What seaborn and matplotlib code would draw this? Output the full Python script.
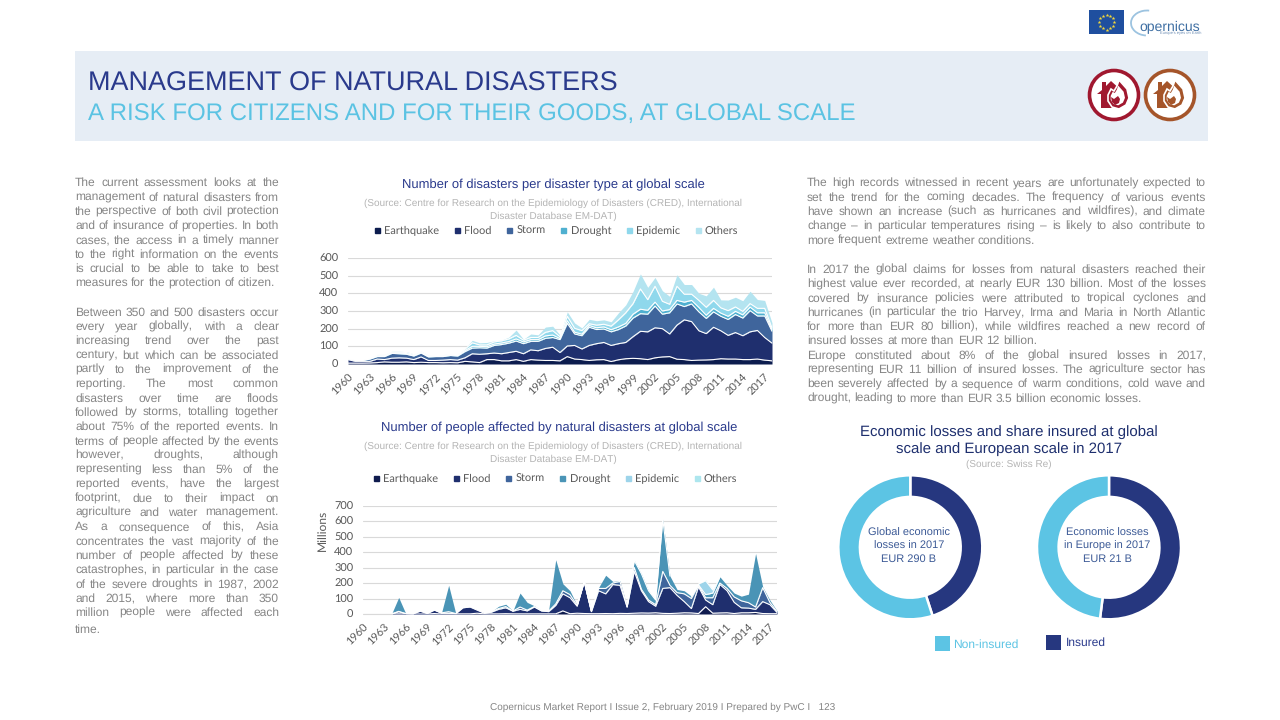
import numpy as np
import pandas as pd
import matplotlib
matplotlib.use("Agg")
import matplotlib.pyplot as plt
from matplotlib.patches import Rectangle, Circle, Polygon, Arc
from matplotlib.lines import Line2D
from matplotlib.transforms import ScaledTranslation
import seaborn as sns

# ---------- data ----------
years = list(range(1960, 2019))
series_names = ["Earthquake", "Flood", "Storm", "Drought", "Epidemic", "Others"]

# Number of disasters per type
d_earthquake = [5,5,5,6,8,12,10,10,12,8, 10,8,8,7,8,7,15,12,8,25, 25,18,18,25,15,25,22,20,20,18,
                42,28,25,20,24,25,14,24,30,32, 30,25,35,40,42,27,25,20,22,23, 25,30,28,28,25,25,28,22,18]
d_flood = [20,10,10,9,20,13,23,25,21,17, 30,12,12,15,17,15,20,46,47,33, 37,40,47,47,43,55,53,68,75,47,
           60,77,60,85,91,97,91,91,92,123, 155,157,170,160,128,193,225,220,166,149, 183,158,134,150,135,157,162,128,100]
d_storm = [5,5,5,13,14,17,27,23,22,20, 22,20,22,20,23,23,35,32,37,32, 43,52,53,58,57,48,53,57,55,73,
           128,65,75,103,80,76,77,80,93,105, 100,100,123,82,120,120,75,100,107,86, 87,82,90,102,100,120,82,122,67]
d_drought = [1,1,1,2,3,3,4,4,4,3, 3,3,3,3,3,3,6,10,8,8, 8,9,9,12,10,10,10,14,14,6,
             15,10,9,10,10,12,12,15,15,22, 25,22,22,18,18,20,25,20,25,18, 20,18,18,18,18,20,18,18,8]
d_epidemic = [1,0,1,3,5,4,5,5,6,6, 5,3,3,4,4,5,8,20,8,10, 12,12,15,20,10,12,12,20,25,10,
              25,22,20,10,15,15,20,40,60,60, 115,60,90,55,30,80,45,35,40,45, 45,30,32,25,20,20,25,25,10]
d_others = [0,1,1,2,4,5,4,5,5,3, 3,3,2,4,3,3,6,14,12,14, 6,4,10,30,5,20,15,30,25,10,
            25,30,15,25,25,25,25,40,45,70, 85,70,50,60,45,65,55,55,40,65, 75,45,60,55,60,70,50,45,30]

# People affected (millions)
p_earthquake = [0,0,0,0,0,1,0,0,0,0, 3,0,1,1,1,1,5,1,1,1, 2,1,1,1,1,1,1,1,20,2,
                5,3,2,2,3,2,4,3,5,7, 6,8,4,3,5,8,7,3,47,5, 7,8,3,8,8,10,3,2,2]
p_flood = [0,0,0,0,0,14,2,1,18,3, 22,5,4,1,39,44,20,4,11,29, 38,17,29,19,44,19,14,54,110,103,
           45,207,13,148,127,188,181,42,270,143, 74,42,161,167,115,72,28,172,43,55, 183,142,72,32,30,20,77,58,8]
p_storm = [0,0,0,0,0,2,0,0,1,0, 1,2,10,1,1,1,2,2,2,5, 8,1,15,5,3,1,3,10,20,20,
           5,0,2,15,35,10,25,1,25,10, 10,10,110,15,18,50,65,10,15,45, 10,15,35,45,35,15,90,15,5]
p_drought = [0,0,0,0,0,90,0,0,0,0, 0,1,170,0,0,0,0,0,2,15, 15,2,90,50,5,1,3,285,45,25,
             0,0,2,5,85,10,5,0,45,100, 60,30,335,60,20,20,15,3,20,30, 40,20,25,30,55,345,5,15,5]
p_epidemic = [0,0,0,0,0,0,0,0,0,0, 0,0,0,0,0,0,0,0,0,0, 0,0,0,0,0,0,0,0,0,0,
              0,0,0,0,0,0,0,0,1,1, 1,0,1,0,0,0,0,5,90,20, 0,0,0,0,0,0,0,0,0]
p_others = [0,0,0,0,0,0,0,0,0,0, 0,0,0,0,0,0,0,0,0,0, 0,0,0,0,0,0,0,0,0,0,
            0,2,0,0,0,0,0,0,0,0, 0,0,0,0,0,0,0,2,5,0, 0,0,0,0,0,0,0,0,0]

donut_labels = ["Insured", "Non-insured"]
global_share = [45, 55]
europe_share = [52, 48]

# ---------- colours ----------
NAVY = "#2a3a8c"
SKY = "#5bc3e3"
BODY = "#858585"
SRC = "#b4b4b4"
INS = "#26377f"
NON = "#5cc4e4"
GRID = "#d9d9d9"
pal1 = sns.color_palette(["#0c1c4e", "#1f2f6e", "#3f659c", "#4fb0d0", "#8fd8ec", "#b4e4f0"])
pal2 = sns.color_palette(["#0f1b4e", "#1f2f6e", "#3f659c", "#4a94b6", "#9dd4ea", "#ade6ee"])

sns.set_theme(style="white")
plt.rcParams["font.family"] = ["Liberation Sans", "DejaVu Sans"]
plt.rcParams["text.hinting"] = "no_hinting"
plt.rcParams["text.hinting_factor"] = 1
fig = plt.figure(figsize=(12.8, 7.2), dpi=100, facecolor="white")

bg = fig.add_axes([0, 0, 1, 1], zorder=0)
bg.set_xlim(0, 1280); bg.set_ylim(720, 0); bg.axis("off")


def box(l, t, r, b, **kw):
    return fig.add_axes([l/1280, 1-b/720, (r-l)/1280, (b-t)/720], **kw)


def area(rect, frame, pal, ymax, ystep):
    ax = box(*rect, zorder=2)
    ax.patch.set_alpha(0)
    vals = frame[series_names].to_numpy(dtype=float)
    ax.stackplot(frame["year"], *vals.T, colors=pal, linewidth=0, zorder=3)
    # white separators between the bands, only where a band lies above
    cum = vals.cumsum(axis=1)
    for i in range(vals.shape[1] - 1):
        above = vals[:, i+1:].sum(axis=1) > 0
        keep = above | np.r_[above[1:], False] | np.r_[False, above[:-1]]
        ax.plot(frame["year"], np.where(keep, cum[:, i], np.nan), color="white", lw=0.8, zorder=4)
    total = cum[:, -1]
    ax.plot(frame["year"], np.where(total == 0, 0.0, np.nan), color=GRID, lw=0.8, zorder=5, clip_on=False)
    ax.set_xlim(1960, 2018)
    ax.set_ylim(0, ymax)
    ax.set_yticks(range(0, ymax+1, ystep))
    ax.set_xticks(range(1960, 2018, 3))
    ax.set_xticklabels(range(1960, 2018, 3), rotation=45, ha="right", rotation_mode="anchor",
                       family="Lato", fontsize=7.8, color="#595959")
    shift = ScaledTranslation(-2.5/100, 0, fig.dpi_scale_trans)
    for t in ax.get_xticklabels():
        t.set_transform(t.get_transform() + shift)
    ax.tick_params(axis="y", labelsize=7.8, labelcolor="#595959", length=0, pad=7)
    ax.tick_params(axis="x", length=0, pad=6)
    for t in ax.get_yticklabels():
        t.set_family("Lato")
    ax.grid(axis="y", color=GRID, linewidth=0.8, zorder=0)
    ax.set_axisbelow(True)
    sns.despine(ax=ax, left=True, bottom=True)
    return ax


def frame_of(vals):
    df = pd.DataFrame(dict(zip(series_names, vals)))
    df.insert(0, "year", years)
    return df


ax1 = area((348, 258, 772, 364), frame_of([d_earthquake, d_flood, d_storm, d_drought, d_epidemic, d_others]), pal1, 600, 100)
ax2 = area((363, 505.5, 777, 614), frame_of([p_earthquake, p_flood, p_storm, p_drought, p_epidemic, p_others]), pal2, 700, 100)
bg.text(322, 530, "Millions", rotation=90, ha="center", va="center", family="Lato", fontsize=8.9, color="#595959")


def legend(ax, pal, cx, cy):
    h = [Line2D([], [], ls="", marker="s", ms=3.6, color=c, label=n) for c, n in zip(pal, series_names)]
    lg = ax.legend(handles=h, ncol=6, frameon=False, loc="center",
                   bbox_to_anchor=(cx/1280, 1-cy/720), bbox_transform=fig.transFigure,
                   prop={"family": "Lato", "size": 7.85}, labelcolor="#595959",
                   handletextpad=0.15, columnspacing=1.13, borderpad=0, handlelength=1.0)
    return lg


legend(ax1, pal1, 555, 231)
legend(ax2, pal2, 554, 479)

# ---------- header ----------
bg.add_patch(Rectangle((75, 51), 1133, 90, color="#e6edf5", lw=0))
bg.text(88, 90.5, "MANAGEMENT OF NATURAL DISASTERS", color=NAVY, fontsize=19.6, va="baseline")
bg.text(88, 119.7, "A RISK FOR CITIZENS AND FOR THEIR GOODS, AT GLOBAL SCALE", color=SKY, fontsize=17.35, va="baseline")


def icon(cx, cy, col):
    bg.add_patch(Circle((cx, cy), 24.5, fc="white", ec=col, lw=2.6))
    bg.add_patch(Polygon([(cx-17, cy-1), (cx-12, cy-5), (cx-12, cy-13), (cx-8, cy-13), (cx-8, cy-9),
                          (cx-3, cy-14), (cx+8, cy-4), (cx+8, cy+13), (cx-13, cy+13), (cx-13, cy-1)], fc=col, lw=0))
    flame = np.array([(5, -15), (13, -6), (15, 3), (12, 10), (5, 14), (-2, 12), (-6, 6), (-6, 0), (-3, -6), (0, -4), (3, -9)], float)
    bg.add_patch(Polygon(np.c_[cx+flame[:, 0], cy+flame[:, 1]], fc=col, ec="white", lw=1.2))
    bg.add_patch(Polygon(np.c_[cx+3.5+(flame[:, 0]-4)*0.68, cy+flame[:, 1]*0.68+0.8], fc="white", lw=0))
    small = np.array([(-3, 2), (0, 4), (4, 1), (6, 4), (5, 8), (1, 10), (-2, 7)], float)
    bg.add_patch(Polygon(np.c_[cx+small[:, 0], cy+small[:, 1]], fc=col, lw=0))


icon(1114, 95, "#a0182f")
icon(1170, 95, "#a5552a")

# logos
bg.add_patch(Rectangle((1089, 10), 35, 24, color="#1f4f9f", lw=0))
ang = np.arange(12) * np.pi / 6
bg.scatter(1106.5 + 7.5*np.cos(ang), 22 + 7.5*np.sin(ang), marker="*", s=8, color="#f4d83a", lw=0, zorder=3)
bg.add_patch(Arc((1147, 23), 32, 25, theta1=95, theta2=280, color="#9cc3e0", lw=1.3))
bg.text(1139.5, 27, "opernicus", color="#3f6fa3", fontsize=10.2, va="center")
bg.text(1160, 33.5, "Europe's eyes on Earth", color="#6f8fb5", fontsize=2.9, va="center")

# ---------- justified body text ----------
renderer = fig.canvas.get_renderer()
FS = 8.45
DY = 4.2


def word_w(s):
    t = bg.text(0, 0, s, fontsize=FS)
    w = t.get_window_extent(renderer).width
    t.remove()
    return w


def justified(x0, x1, y, line, last=False):
    words = line.split()
    widths = [word_w(w) for w in words]
    if last or len(words) == 1:
        gap = word_w("a b") - word_w("a") - word_w("b")
    else:
        gap = (x1 - x0 - sum(widths)) / (len(words) - 1)
    x = x0
    for w, wd in zip(words, widths):
        bg.text(x, y + DY, w, fontsize=FS, color=BODY, va="baseline", ha="left")
        x += wd + gap


left_lines = [
    (182.0, "The current assessment looks at the", 0), (196.3, "management of natural disasters from", 0),
    (210.6, "the perspective of both civil protection", 0), (224.9, "and of insurance of properties. In both", 0),
    (239.2, "cases, the access in a timely manner", 0), (253.5, "to the right information on the events", 0),
    (267.8, "is crucial to be able to take to best", 0), (282.1, "measures for the protection of citizen.", 1),
    (311.5, "Between 350 and 500 disasters occur", 0), (325.8, "every year globally, with a clear", 0),
    (340.1, "increasing trend over the past", 0), (354.4, "century, but which can be associated", 0),
    (368.7, "partly to the improvement of the", 0), (383.0, "reporting. The most common", 0),
    (397.3, "disasters over time are floods", 0), (411.6, "followed by storms, totalling together", 0),
    (425.9, "about 75% of the reported events. In", 0), (440.2, "terms of people affected by the events", 0),
    (454.5, "however, droughts, although", 0), (468.8, "representing less than 5% of the", 0),
    (483.1, "reported events, have the largest", 0), (497.4, "footprint, due to their impact on", 0),
    (511.7, "agriculture and water management.", 0), (526.0, "As a consequence of this, Asia", 0),
    (540.3, "concentrates the vast majority of the", 0), (554.6, "number of people affected by these", 0),
    (568.9, "catastrophes, in particular in the case", 0), (583.2, "of the severe droughts in 1987, 2002", 0),
    (597.5, "and 2015, where more than 350", 0), (611.8, "million people were affected each", 0),
    (629.0, "time.", 1),
]
for y, s, last in left_lines:
    justified(75, 279, y, s, bool(last))

right_lines = [
    (182.0, "The high records witnessed in recent years are unfortunately expected to", 0),
    (196.3, "set the trend for the coming decades. The frequency of various events", 0),
    (210.6, "have shown an increase (such as hurricanes and wildfires), and climate", 0),
    (224.9, "change – in particular temperatures rising – is likely to also contribute to", 0),
    (239.2, "more frequent extreme weather conditions.", 1),
    (268.6, "In 2017 the global claims for losses from natural disasters reached their", 0),
    (282.9, "highest value ever recorded, at nearly EUR 130 billion. Most of the losses", 0),
    (297.2, "covered by insurance policies were attributed to tropical cyclones and", 0),
    (311.5, "hurricanes (in particular the trio Harvey, Irma and Maria in North Atlantic", 0),
    (325.8, "for more than EUR 80 billion), while wildfires reached a new record of", 0),
    (340.1, "insured losses at more than EUR 12 billion.", 1),
    (354.4, "Europe constituted about 8% of the global insured losses in 2017,", 0),
    (368.7, "representing EUR 11 billion of insured losses. The agriculture sector has", 0),
    (383.0, "been severely affected by a sequence of warm conditions, cold wave and", 0),
    (397.3, "drought, leading to more than EUR 3.5 billion economic losses.", 1),
]
for y, s, last in right_lines:
    justified(807, 1206, y, s, bool(last))

# ---------- chart titles ----------
bg.text(553, 188.4, "Number of disasters per disaster type at global scale", color=NAVY, fontsize=9.2, ha="center", va="baseline")
src1 = "(Source: Centre for Research on the Epidemiology of Disasters (CRED), International"
src2 = "Disaster Database EM-DAT)"
bg.text(553, 206, src1, color=SRC, fontsize=7.45, ha="center", va="baseline")
bg.text(553, 219, src2, color=SRC, fontsize=7.45, ha="center", va="baseline")
bg.text(559, 431, "Number of people affected by natural disasters at global scale", color=NAVY, fontsize=9.2, ha="center", va="baseline")
bg.text(553, 449.3, src1, color=SRC, fontsize=7.45, ha="center", va="baseline")
bg.text(553, 461.8, src2, color=SRC, fontsize=7.45, ha="center", va="baseline")

# ---------- donuts ----------
def donut(cx, vals, lines):
    r = 72
    ax = box(cx-r, 547.3-r, cx+r, 547.3+r, zorder=2)
    ax.pie(vals, colors=[INS, NON], startangle=90, counterclock=False, radius=1,
           wedgeprops=dict(width=0.30, edgecolor="white", linewidth=1.8))
    ax.set_xlim(-1, 1); ax.set_ylim(-1, 1)
    ax.set_aspect("equal")
    for y, s in zip((536.2, 549.2, 562.2), lines):
        bg.text(cx-1.5, y, s, color="#3c5a96", fontsize=7.6, ha="center", va="baseline")


donut(910.3, global_share, ["Global economic", "losses in 2017", "EUR 290 B"])
donut(1109, europe_share, ["Economic losses", "in Europe in 2017", "EUR 21 B"])

bg.text(1009, 436, "Economic losses and share insured at global", color="#1e2f6e", fontsize=10.75, ha="center", va="baseline")
bg.text(1009, 453, "scale and European scale in 2017", color="#1e2f6e", fontsize=10.75, ha="center", va="baseline")
bg.text(1009, 467, "(Source: Swiss Re)", color=SRC, fontsize=7.45, ha="center", va="baseline")

bg.add_patch(Rectangle((935, 636), 15, 15, color=NON, lw=0))
bg.text(953, 648, donut_labels[1], color=NON, fontsize=8.5, va="baseline")
bg.add_patch(Rectangle((1046, 635), 15, 15, color=INS, lw=0))
bg.text(1066, 646, donut_labels[0], color=NAVY, fontsize=8.5, va="baseline")

# ---------- footer ----------
bg.text(490, 710, "Copernicus Market Report I Issue 2, February 2019 I Prepared by PwC I   123", color=BODY, fontsize=7.03, va="baseline")

fig.savefig("out.png", dpi=100, facecolor="white")
